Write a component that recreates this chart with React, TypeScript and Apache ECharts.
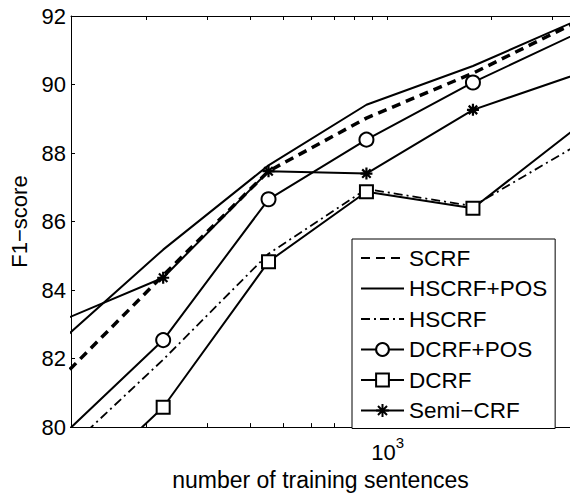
import React, { useEffect, useRef } from "react";
import * as echarts from "echarts";

const sentences = [112, 224, 452, 868, 1765, 3530];
const scrf = [81.37, 84.43, 87.47, 89.02, 90.33, 91.83];
const hscrfPos = [82.47, 85.18, 87.64, 89.41, 90.54, 91.87];
const hscrf = [79.12, 81.97, 85.06, 86.95, 86.45, 88.23];
const dcrfPos = [79.66, 82.54, 86.65, 88.39, 90.06, 91.49];
const dcrf = [77.71, 80.58, 84.83, 86.87, 86.39, 88.75];
const semiCrf = [83.08, 84.36, 87.47, 87.4, 89.26, 90.3];

const xTicks = [200, 300, 400, 500, 600, 700, 800, 900, 1000, 2000, 3000];
const xLabelValues = [1000];
const xMin = 121.2;
const xMax = 3370;

const FONT = "'Liberation Sans', Arial, sans-serif";
const STAR = "path://M0,-6L0,6M-6,0L6,0M-4.24,-4.24L4.24,4.24M-4.24,4.24L4.24,-4.24";
const CLEAR = "rgba(0,0,0,0)";

const pairs = (ys: number[]) => sentences.map((x, i) => [x, ys[i]]);

export default function App() {
  const ref = useRef<HTMLDivElement>(null);
  useEffect(() => {
    if (!ref.current) return;
    const chart = echarts.init(ref.current, null, { renderer: "svg" });
    const baseLine = (name: string, ys: number[], lineStyle: any, symbol: any = "none", size = 13) => {
      const none = symbol === "none";
      return {
        name,
        type: "line",
        data: pairs(ys),
        clip: true,
        symbol: none ? "circle" : symbol,
        symbolSize: size,
        showSymbol: !none,
        lineStyle: { color: "#000", width: 2, ...lineStyle },
        itemStyle: none
          ? { color: CLEAR, borderColor: CLEAR, borderWidth: 0 }
          : {
              color: symbol === STAR ? "#000" : "#fff",
              borderColor: "#000",
              borderWidth: symbol === STAR ? 2.2 : 2,
            },
        emphasis: { disabled: true },
      };
    };
    chart.setOption({
      animation: false,
      grid: { left: 71, right: 0, top: 16, bottom: 67 },
      xAxis: [
        {
          type: "log",
          logBase: 10,
          min: xMin,
          max: xMax,
          position: "bottom",
          name: "number of training sentences",
          nameLocation: "middle",
          nameGap: 37,
          nameTextStyle: { fontFamily: FONT, fontSize: 23, color: "#000" },
          axisLine: { show: true, lineStyle: { color: "#000", width: 1 } },
          axisTick: { show: true, inside: true, length: 4, customValues: xTicks, lineStyle: { color: "#000" } },
          axisLabel: {
            show: true,
            customValues: xLabelValues,
            margin: 8,
            formatter: (v: number) => (Math.abs(v - 1000) < 1 ? "{a|10}{b|3}" : ""),
            rich: {
              a: { fontFamily: FONT, fontSize: 22, color: "#000", lineHeight: 28, verticalAlign: "bottom" },
              b: { fontFamily: FONT, fontSize: 15, color: "#000", lineHeight: 15, verticalAlign: "top" },
            },
          },
          splitLine: { show: false },
          minorTick: { show: false },
        },
        {
          type: "log",
          logBase: 10,
          min: xMin,
          max: xMax,
          position: "top",
          axisLine: { show: true, lineStyle: { color: "#000", width: 1 } },
          axisTick: { show: true, inside: true, length: 4, customValues: xTicks, lineStyle: { color: "#000" } },
          axisLabel: { show: false },
          splitLine: { show: false },
        },
      ],
      yAxis: {
        type: "value",
        min: 80,
        max: 92,
        interval: 2,
        name: "F1\u2212score",
        nameLocation: "middle",
        nameGap: 37,
        nameTextStyle: { fontFamily: FONT, fontSize: 22, color: "#000" },
        axisLine: { show: true, lineStyle: { color: "#000", width: 1 } },
        axisTick: { show: true, inside: true, length: 4, lineStyle: { color: "#000" } },
        axisLabel: { fontFamily: FONT, fontSize: 22, color: "#000", margin: 5 },
        splitLine: { show: false },
      },
      legend: {
        orient: "vertical",
        left: 352,
        top: 239,
        padding: [7, 8, 6, 8],
        itemWidth: 43,
        itemHeight: 16,
        itemGap: 6.5,
        backgroundColor: "#fff",
        borderColor: "#000",
        borderWidth: 1,
        borderRadius: 0,
        textStyle: { fontFamily: FONT, fontSize: 22.5, color: "#000", lineHeight: 24 },
        data: ["SCRF", "HSCRF+POS", "HSCRF", "DCRF+POS", "DCRF", "Semi\u2212CRF"],
      },
      series: [
        baseLine("SCRF", scrf, { width: 3.5, type: [9, 6] }),
        baseLine("HSCRF+POS", hscrfPos, {}),
        baseLine("HSCRF", hscrf, { width: 1.8, type: [9, 4, 2, 4] }),
        baseLine("DCRF+POS", dcrfPos, {}, "circle", 14),
        baseLine("DCRF", dcrf, {}, "rect", 13),
        baseLine("Semi\u2212CRF", semiCrf, {}, STAR, 12),
      ],
    });
    return () => chart.dispose();
  }, []);
  return (
    <div
      ref={ref}
      style={{ position: "absolute", left: 0, top: 0, width: 570, height: 496, background: "#fff" }}
    />
  );
}
